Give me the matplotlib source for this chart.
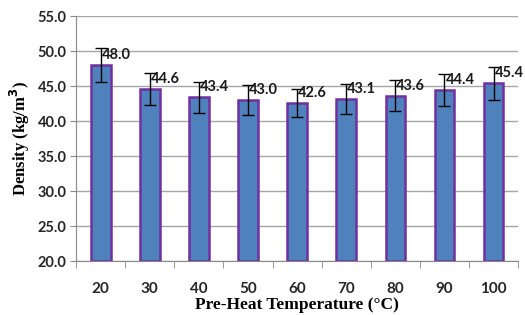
import matplotlib
matplotlib.use("Agg")
import matplotlib.pyplot as plt
import numpy as np

categories = ["20", "30", "40", "50", "60", "70", "80", "90", "100"]
density = [48.0, 44.6, 43.4, 43.0, 42.6, 43.1, 43.6, 44.4, 45.4]
errors = [2.4, 2.25, 2.2, 2.2, 2.0, 2.15, 2.2, 2.3, 2.35]
yticks = [20.0, 25.0, 30.0, 35.0, 40.0, 45.0, 50.0, 55.0]

fig = plt.figure(figsize=(5.25, 3.15), dpi=100)
ax = fig.add_axes([0.145, 0.171, 0.842, 0.778])

x = np.arange(len(categories))
ax.bar(x, [d - 20 for d in density], bottom=20, width=0.4, color="#4F81BD",
       edgecolor="#7030A0", linewidth=1.8, zorder=3)
ax.errorbar(x, density, yerr=errors, fmt="none", ecolor="black", elinewidth=1,
            capsize=4, capthick=1, zorder=4)
for xi, d in zip(x, density):
    ax.annotate(f"{d:.1f}", (xi, d), xytext=(1, 10), textcoords="offset pixels",
                ha="left", va="center", fontsize=10.5, fontweight="bold",
                family="Lato", color="#1a1a1a", zorder=5, annotation_clip=False)

ax.set_xlim(-0.5, len(categories) - 0.5)
ax.set_ylim(20, 55)
ax.set_yticks(yticks)
ax.set_yticklabels([f"{t:.1f}" for t in yticks], fontsize=10.5, fontweight="bold",
                   family="Lato", color="#262626")
ax.set_xticks(x)
ax.set_xticklabels(categories, fontsize=11, fontweight="bold", family="Lato",
                   color="#262626")
ax.tick_params(axis="x", which="major", length=0, pad=15)
ax.set_xticks(np.arange(-0.5, len(categories)), minor=True)
ax.tick_params(axis="x", which="minor", length=5, color="#888888")
ax.tick_params(axis="y", length=4, color="#888888", pad=3)

ax.grid(axis="y", color="#a6a6a6", linewidth=1, zorder=0)
ax.set_axisbelow(True)
for s in ["top", "right"]:
    ax.spines[s].set_visible(False)
ax.spines["left"].set_color("#888888")
ax.spines["bottom"].set_color("#888888")

ax.set_xlabel("Pre-Heat Temperature (°C)", fontsize=12.5, fontweight="bold",
              family="Liberation Serif", labelpad=1)
ax.set_ylabel("Density (kg/m$^{\\mathbf{3}}$)", fontsize=12, fontweight="bold",
              family="Liberation Serif", labelpad=4)

fig.savefig("out.png", dpi=100)
